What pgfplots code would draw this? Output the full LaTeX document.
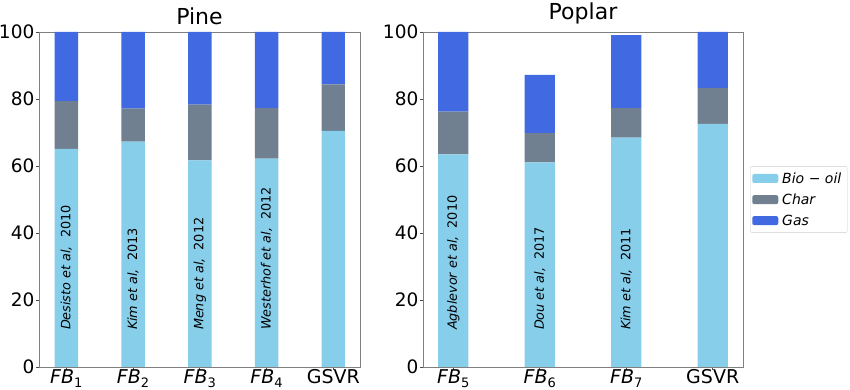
\documentclass[border=0pt]{standalone}
\usepackage{fontspec}
\setmainfont{DejaVu Sans}
\usepackage{pgfplots}
\pgfplotsset{compat=1.18}
\definecolor{bio}{RGB}{135,206,235}
\definecolor{char}{RGB}{112,128,144}
\definecolor{gas}{RGB}{65,105,225}
\definecolor{frame}{RGB}{128,128,128}
\newcommand{\FB}[1]{\textit{FB}\raisebox{-0.2em}{\fontsize{13}{13}\selectfont #1}}
\newcommand{\ann}{\fontsize{12.8}{15}\selectfont}
\pgfplotsset{
  mybar/.style={
    scale only axis, height=335pt,
    ymin=0, ymax=100, ytick={0,20,40,60,80,100},
    ybar stacked, bar width=0.35,
    axis line style={frame, line width=0.8pt},
    tick style={black!70, line width=0.8pt},
    major tick length=3pt,
    tick align=outside, xtick pos=bottom, ytick pos=left,
    xtick=data,
    tick label style={font=\fontsize{19}{21}\selectfont},
    yticklabel style={font=\fontsize{18.5}{21}\selectfont, inner xsep=1.5pt},
    /pgf/number format/assume math mode=true,
    xticklabel style={yshift=4pt},
    title style={font=\fontsize{22}{24}\selectfont, yshift=-2pt},
    every axis plot/.append style={draw=none},
    clip=false,
  }
}
\begin{document}
\begin{tikzpicture}[x=1pt,y=1pt]
\path[use as bounding box] (0,0) rectangle (850,390);
\begin{axis}[mybar, at={(39pt,23pt)}, anchor=south west, width=321pt,
  title={Pine},
  xmin=-0.41, xmax=4.4,
  xticklabels={\FB{1},\FB{2},\FB{3},\FB{4},GSVR}]
\addplot[fill=bio] coordinates {(0,65.1) (1,67.3) (2,61.7) (3,62.2) (4,70.5)};
\addplot[fill=char] coordinates {(0,14.3) (1,9.8) (2,16.6) (3,15.1) (4,13.9)};
\addplot[fill=gas] coordinates {(0,20.6) (1,22.9) (2,21.7) (3,22.7) (4,15.6)};
\coordinate (p0) at (axis cs:0,10);
\coordinate (p1) at (axis cs:1,10);
\coordinate (p2) at (axis cs:2,10);
\coordinate (p3) at (axis cs:3,10);
\end{axis}
\node[rotate=90, anchor=west, font=\ann] at (p0) {\textit{Desisto et al,}\ \ 2010};
\node[rotate=90, anchor=west, font=\ann] at (p1) {\textit{Kim et al,}\ \ 2013};
\node[rotate=90, anchor=west, font=\ann] at (p2) {\textit{Meng et al,}\ \ 2012};
\node[rotate=90, anchor=west, font=\ann] at (p3) {\textit{Westerhof et al,}\ \ 2012};
\begin{axis}[mybar, at={(423pt,23pt)}, anchor=south west, width=320pt,
  title={Poplar},
  xmin=-0.35, xmax=3.35,
  xticklabels={\FB{5},\FB{6},\FB{7},GSVR},
  legend style={at={(1.022,0.5)}, anchor=west, draw=black!20, rounded corners=2pt,
    font=\fontsize{14}{16}\selectfont, row sep=5pt, inner xsep=2pt, inner ysep=4pt,
    nodes={inner xsep=4pt}},
  legend cell align=left,
  legend image code/.code={\fill[#1] (0pt,-4.5pt) rectangle (26pt,4.5pt);},
  ]
\addplot[fill=bio] coordinates {(0,63.5) (1,61.1) (2,68.5) (3,72.6)};
\addplot[fill=char] coordinates {(0,12.7) (1,8.7) (2,8.8) (3,10.7)};
\addplot[fill=gas] coordinates {(0,23.8) (1,17.4) (2,21.8) (3,16.7)};
\legend{\textit{Bio − oil},\textit{Char},\textit{Gas}}
\coordinate (q0) at (axis cs:0,10);
\coordinate (q1) at (axis cs:1,10);
\coordinate (q2) at (axis cs:2,10);
\end{axis}
\node[rotate=90, anchor=west, font=\ann] at (q0) {\textit{Agblevor et al,}\ \ 2010};
\node[rotate=90, anchor=west, font=\ann] at (q1) {\textit{Dou et al,}\ \ 2017};
\node[rotate=90, anchor=west, font=\ann] at (q2) {\textit{Kim et al,}\ \ 2011};
\end{tikzpicture}
\end{document}
